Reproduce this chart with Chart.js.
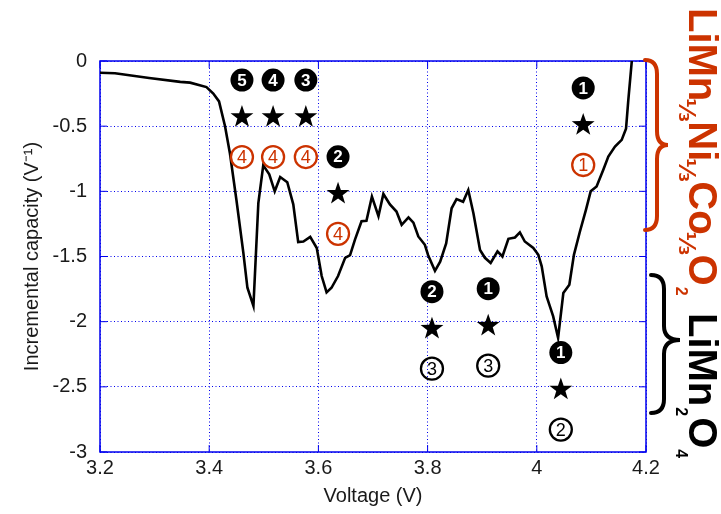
<!DOCTYPE html>
<html>
<head>
<meta charset="utf-8">
<script src="https://cdn.jsdelivr.net/npm/chart.js@4.4.0/dist/chart.umd.min.js"></script>
<style>
  html, body { margin: 0; padding: 0; background: #fff; }
</style>
</head>
<body>
<canvas id="icChart" width="721" height="514"></canvas>
<script>
// ---- incremental capacity curve (discharge) ----
const voltage = [3.2, 3.2275, 3.29, 3.347, 3.365, 3.395, 3.4075, 3.418, 3.429, 3.438, 3.45, 3.4625, 3.47, 3.481,
  3.49, 3.499, 3.51, 3.52, 3.53, 3.543, 3.554, 3.563, 3.5725, 3.585, 3.597, 3.606, 3.615, 3.624, 3.636, 3.649,
  3.658, 3.667, 3.679, 3.688, 3.698, 3.71, 3.719, 3.731, 3.743, 3.7525, 3.765, 3.774, 3.783, 3.795, 3.801,
  3.8135, 3.823, 3.834, 3.844, 3.853, 3.865, 3.8745, 3.884, 3.896, 3.905, 3.9155, 3.928, 3.937, 3.948, 3.96,
  3.969, 3.978, 3.9936, 4.0028, 4.009, 4.018, 4.024, 4.03, 4.039, 4.0486, 4.0596, 4.068, 4.079, 4.09, 4.0987,
  4.1095, 4.1218, 4.131, 4.1432, 4.1555, 4.1634, 4.1676, 4.174];
const capacity = [-0.09, -0.094, -0.13, -0.16, -0.166, -0.20, -0.25, -0.31, -0.50, -0.71, -1.07, -1.47, -1.74, -1.88,
  -1.09, -0.80, -0.87, -1.00, -0.89, -0.93, -1.10, -1.39, -1.385, -1.35, -1.435, -1.65, -1.775, -1.74, -1.65, -1.51,
  -1.49, -1.37, -1.23, -1.226, -1.04, -1.19, -1.02, -1.10, -1.155, -1.257, -1.20, -1.24, -1.346, -1.41, -1.49,
  -1.61, -1.54, -1.40, -1.13, -1.06, -1.08, -0.99, -1.17, -1.45, -1.51, -1.55, -1.46, -1.50, -1.364, -1.354,
  -1.315, -1.385, -1.435, -1.487, -1.576, -1.806, -1.883, -1.96, -2.125, -1.78, -1.717, -1.487, -1.308, -1.142, -1.0,
  -0.963, -0.835, -0.733, -0.657, -0.605, -0.52, -0.30, 0];

const xTicks = [3.2, 3.4, 3.6, 3.8, 4, 4.2];
const yTicks = [0, -0.5, -1, -1.5, -2, -2.5, -3];

// peak markers: filled number on top, star, ringed number below
const peakVolts = [3.46, 3.517, 3.577, 3.636, 3.808, 3.911, 4.044, 4.085];
const peakTop = [-0.146, -0.146, -0.146, -0.735, -1.77, -1.747, -2.237, -0.207];
const filledNums = ['5', '4', '3', '2', '2', '1', '1', '1'];
const ringNums = ['4', '4', '4', '4', '3', '3', '2', '1'];
const ringIsNMC = [true, true, true, true, false, false, false, true];

const RED = '#cc3300';
const BLUE = '#0000ee';
const FONT = '"Liberation Sans", Arial, sans-serif';

const points = voltage.map((v, i) => ({ x: v, y: capacity[i] }));

function drawStar(ctx, cx, cy, R, r) {
  ctx.beginPath();
  for (let k = 0; k < 10; k++) {
    const rad = k % 2 === 0 ? R : r;
    const a = -Math.PI / 2 + k * Math.PI / 5;
    const px = cx + rad * Math.cos(a), py = cy + rad * Math.sin(a);
    if (k === 0) ctx.moveTo(px, py); else ctx.lineTo(px, py);
  }
  ctx.closePath();
  ctx.fill();
}

function drawBrace(ctx, x0, xm, xTip, yTop, yMid, yBot, color) {
  const r = 14;
  ctx.save();
  ctx.strokeStyle = color;
  ctx.lineWidth = 4;
  ctx.lineCap = 'round';
  ctx.beginPath();
  ctx.moveTo(x0, yTop);
  ctx.quadraticCurveTo(xm, yTop, xm, yTop + r);
  ctx.lineTo(xm, yMid - r);
  ctx.quadraticCurveTo(xm, yMid, xTip, yMid);
  ctx.quadraticCurveTo(xm, yMid, xm, yMid + r);
  ctx.lineTo(xm, yBot - r);
  ctx.quadraticCurveTo(xm, yBot, x0, yBot);
  ctx.stroke();
  ctx.restore();
}

// formula written top-to-bottom; parts are big text, 1/3 fractions or subscripts
function drawFormula(ctx, x, y, parts, color) {
  ctx.save();
  ctx.translate(x, y);
  ctx.rotate(Math.PI / 2);
  ctx.fillStyle = color;
  ctx.textBaseline = 'alphabetic';
  let pos = 0;
  parts.forEach(p => {
    if (p.frac) {
      ctx.font = 'bold 23px "DejaVu Sans", sans-serif';
      ctx.fillText('\u2153', pos - 3, 10);
      pos += 20;
    } else if (p.sub) {
      ctx.font = 'bold 16px ' + FONT;
      ctx.fillText(p.sub, pos + 1, 13);
      pos += ctx.measureText(p.sub).width + 2;
    } else {
      ctx.font = 'bold 40px ' + FONT;
      ctx.fillText(p.text, pos, 0);
      pos += ctx.measureText(p.text).width;
    }
  });
  ctx.restore();
}

const decorPlugin = {
  id: 'decor',
  beforeDatasetsDraw(chart) {
    const { ctx, chartArea: a, scales } = chart;
    ctx.save();
    ctx.strokeStyle = BLUE;
    ctx.lineWidth = 1.5;
    ctx.strokeRect(a.left, a.top, a.right - a.left, a.bottom - a.top);
    ctx.lineWidth = 1;
    ctx.beginPath();
    xTicks.forEach(v => {
      const px = scales.x.getPixelForValue(v);
      ctx.moveTo(px, a.bottom); ctx.lineTo(px, a.bottom - 7);
      ctx.moveTo(px, a.top); ctx.lineTo(px, a.top + 7);
    });
    yTicks.forEach(v => {
      const py = scales.y.getPixelForValue(v);
      ctx.moveTo(a.left, py); ctx.lineTo(a.left + 7, py);
      ctx.moveTo(a.right, py); ctx.lineTo(a.right - 7, py);
    });
    ctx.stroke();
    ctx.restore();
  },
  afterDatasetsDraw(chart) {
    const { ctx, scales, chartArea: a } = chart;
    ctx.save();
    ctx.textAlign = 'center';
    ctx.textBaseline = 'middle';
    peakVolts.forEach((v, i) => {
      const cx = scales.x.getPixelForValue(v);
      const cy = scales.y.getPixelForValue(peakTop[i]);
      // filled number
      ctx.fillStyle = '#000';
      ctx.beginPath();
      ctx.arc(cx, cy, 11.5, 0, Math.PI * 2);
      ctx.fill();
      ctx.fillStyle = '#fff';
      ctx.font = 'bold 17px ' + FONT;
      ctx.fillText(filledNums[i], cx, cy + 1);
      // star
      ctx.fillStyle = '#000';
      drawStar(ctx, cx, cy + 37, 12, 4.8);
      // ringed number
      const col = ringIsNMC[i] ? RED : '#000';
      ctx.strokeStyle = col;
      ctx.lineWidth = 2.3;
      ctx.beginPath();
      ctx.arc(cx, cy + 77, 11, 0, Math.PI * 2);
      ctx.stroke();
      ctx.fillStyle = col;
      ctx.font = '18px ' + FONT;
      ctx.fillText(ringNums[i], cx, cy + 78);
    });
    ctx.restore();

    drawBrace(ctx, a.right - 1, a.right + 11, a.right + 22, a.top - 1, a.top + 84, a.top + 169, RED);
    drawBrace(ctx, a.right + 5, a.right + 18, a.right + 34, a.top + 214, a.top + 279, a.top + 352, '#000');

    drawFormula(ctx, 689, 8, [
      { text: 'LiMn' }, { frac: true }, { text: 'Ni' }, { frac: true },
      { text: 'Co' }, { frac: true }, { text: 'O' }, { sub: '2' }
    ], RED);
    drawFormula(ctx, 689, 313, [
      { text: 'LiMn' }, { sub: '2' }, { text: 'O' }, { sub: '4' }
    ], '#000');
  }
};

new Chart(document.getElementById('icChart'), {
  type: 'line',
  data: {
    datasets: [{
      data: points,
      borderColor: '#000',
      borderWidth: 2.6,
      pointRadius: 0,
      tension: 0,
      fill: false
    }]
  },
  options: {
    responsive: false,
    animation: false,
    devicePixelRatio: 1,
    layout: { padding: { top: 61, right: 75, left: 0, bottom: 0 } },
    plugins: { legend: { display: false }, tooltip: { enabled: false } },
    scales: {
      x: {
        type: 'linear',
        min: 3.2,
        max: 4.2,
        afterFit: s => { s.height = 62; },
        afterBuildTicks: s => { s.ticks = xTicks.map(v => ({ value: v })); },
        ticks: {
          padding: 4,
          color: '#1a1a1a',
          font: { family: FONT, size: 20 },
          callback: v => String(Math.round(v * 10) / 10)
        },
        grid: { color: BLUE, lineWidth: 1, drawTicks: false },
        border: { display: false, dash: [1, 2.5] },
        title: {
          display: true,
          text: 'Voltage (V)',
          color: '#1a1a1a',
          font: { family: FONT, size: 20 },
          padding: { top: 0, bottom: 6 }
        }
      },
      y: {
        min: -3,
        max: 0,
        afterFit: s => { s.width = 100; },
        afterBuildTicks: s => { s.ticks = yTicks.map(v => ({ value: v })); },
        ticks: {
          padding: 13,
          color: '#1a1a1a',
          font: { family: FONT, size: 20 },
          callback: v => String(v)
        },
        grid: { color: BLUE, lineWidth: 1, drawTicks: false },
        border: { display: false, dash: [1, 2.5] },
        title: {
          display: true,
          text: 'Incremental capacity (V\u207B\u00B9)',
          color: '#1a1a1a',
          font: { family: FONT, size: 20 },
          padding: { top: 20, bottom: 0 }
        }
      }
    }
  },
  plugins: [decorPlugin]
});
</script>
</body>
</html>
